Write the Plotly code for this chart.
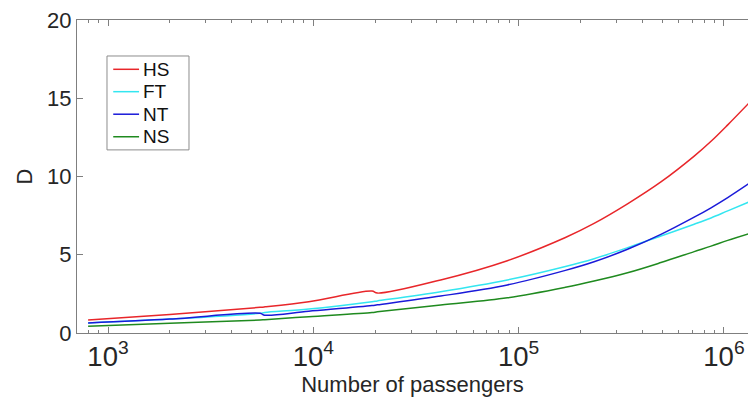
import plotly.graph_objects as go

# Number of passengers (x) and D values
passengers = [800, 2000, 5500, 5800, 9500, 19300, 20500, 41700, 88100,
              169000, 233000, 339000, 493000, 716000, 865000, 1043000, 1324000]
hs = [0.83, 1.19, 1.64, 1.67, 2.00, 2.68, 2.55, 3.39, 4.62,
      6.10, 7.00, 8.25, 9.65, 11.30, 12.25, 13.30, 14.70]
ft = [0.64, 0.89, 1.26, 1.31, 1.53, 2.00, 2.05, 2.64, 3.39,
      4.25, 4.75, 5.45, 6.20, 6.95, 7.35, 7.80, 8.37]
nt = [0.64, 0.89, 1.26, 1.14, 1.39, 1.75, 1.80, 2.36, 3.07,
      4.00, 4.55, 5.35, 6.30, 7.40, 8.00, 8.65, 9.55]
ns = [0.43, 0.62, 0.83, 0.85, 1.04, 1.31, 1.35, 1.79, 2.25,
      2.92, 3.32, 3.85, 4.50, 5.20, 5.55, 5.92, 6.35]

names = ["HS", "FT", "NT", "NS"]
values = [hs, ft, nt, ns]
colors = ["#e8262a", "#33e6f0", "#1a1ad9", "#1f8a1f"]

fig = go.Figure()
for name, vals, col in zip(names, values, colors):
    fig.add_trace(go.Scatter(x=passengers, y=vals, mode="lines", name=name,
                             line=dict(color=col, width=1.5, shape="spline", smoothing=1.0)))

axcol = "#7f7f7f"
fontfam = "Liberation Sans, Arial, Helvetica, sans-serif"

# manual legend (paper coordinates = plot area)
shapes = [dict(type="rect", xref="paper", yref="paper", x0=0.0447, x1=0.1669,
               y0=0.585, y1=0.885, line=dict(color="#8c8c8c", width=1),
               fillcolor="white", layer="above")]
annotations = []
row_y = [0.8425, 0.771, 0.699, 0.627]
for name, col, yy in zip(names, colors, row_y):
    shapes.append(dict(type="line", xref="paper", yref="paper", x0=0.054, x1=0.0925,
                       y0=yy, y1=yy, line=dict(color=col, width=1.5), layer="above"))
    annotations.append(dict(xref="paper", yref="paper", x=0.095, y=yy, text=name,
                            showarrow=False, xanchor="left", yanchor="middle",
                            font=dict(size=19, color="#111", family=fontfam)))

fig.update_layout(
    width=748, height=400,
    margin=dict(l=77, r=0, t=20, b=67),
    paper_bgcolor="white", plot_bgcolor="white",
    font=dict(family=fontfam, size=22, color="#262626"),
    showlegend=False,
    shapes=shapes, annotations=annotations,
    xaxis=dict(type="log", range=[2.849, 6.117], dtick=1, exponentformat="power",
               showgrid=False, zeroline=False, showline=True, linecolor=axcol, linewidth=1,
               mirror="allticks", ticks="inside", ticklen=6, tickcolor=axcol,
               minor=dict(ticks="inside", ticklen=3, tickcolor=axcol, showgrid=False),
               tickfont=dict(size=22), title=dict(text="Number of passengers", standoff=2,
                                                  font=dict(size=22))),
    yaxis=dict(range=[0, 20], tickvals=[0, 5, 10, 15, 20],
               showgrid=False, zeroline=False, showline=True, linecolor=axcol, linewidth=1,
               ticks="inside", ticklen=6, tickcolor=axcol,
               tickfont=dict(size=22), title=dict(text="D", standoff=8, font=dict(size=22))),
)

fig.write_html("out.html")
